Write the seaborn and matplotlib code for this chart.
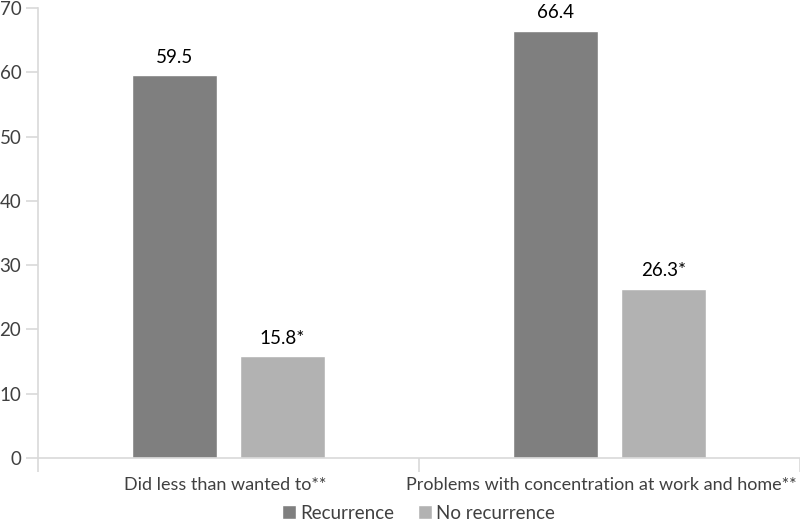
import pandas as pd
import matplotlib.pyplot as plt
import matplotlib.transforms as mtransforms
import seaborn as sns
from matplotlib.ticker import FixedLocator

categories = ["Did less than wanted to**", "Problems with concentration at work and home**"]
groups = ["Recurrence", "No recurrence"]
recurrence = [59.5, 66.4]
no_recurrence = [15.8, 26.3]
labels_recurrence = ["59.5", "66.4"]
labels_no_recurrence = ["15.8*", "26.3*"]

df = pd.DataFrame({
    "category": categories * 2,
    "group": [groups[0]] * 2 + [groups[1]] * 2,
    "value": recurrence + no_recurrence,
})

sns.set_theme(style="white")
plt.rcParams["font.family"] = ["Lato", "DejaVu Sans"]
text_col = "#404040"
axis_col = "#d9d9d9"

fig = plt.figure(figsize=(8, 5.22), dpi=100)
ax = fig.add_axes([0.0475, 0.1226, 0.9525, 0.8621])
sns.barplot(data=df, x="category", y="value", hue="group", hue_order=groups,
            palette=["#7f7f7f", "#b2b2b2"], width=0.565, gap=0.21,
            saturation=1, ax=ax, legend=True)

for cont, labs in zip(ax.containers, [labels_recurrence, labels_no_recurrence]):
    ax.bar_label(cont, labels=labs, padding=7, fontsize=13.5, color="black")

ax.set_ylim(0, 70)
ax.set_xlim(-0.5, 1.5)
ax.set_yticks(range(0, 71, 10))
ax.set_xlabel("")
ax.set_ylabel("")
for s in ["top", "right"]:
    ax.spines[s].set_visible(False)
ax.spines["left"].set_color(axis_col)
ax.spines["bottom"].set_color(axis_col)
ax.spines["left"].set_linewidth(1.2)
ax.spines["bottom"].set_linewidth(1.2)
ax.tick_params(axis="y", left=True, length=9, width=1.2, color=axis_col,
               labelsize=13.5, labelcolor=text_col, pad=3)
ax.tick_params(axis="x", which="major", bottom=False, labelsize=13,
               labelcolor=text_col, pad=8)
ax.xaxis.set_minor_locator(FixedLocator([-0.5, 0.5, 1.5]))
ax.tick_params(axis="x", which="minor", bottom=True, length=10, width=1.2,
               color=axis_col)

# nudge the category labels left a little, like the original
for lab, dx in zip(ax.get_xticklabels(), [-3.5, -8]):
    lab.set_transform(lab.get_transform() +
                      mtransforms.ScaledTranslation(dx / 100, 0, fig.dpi_scale_trans))

ax.get_legend().remove()
handles, leg_labels = ax.get_legend_handles_labels()
fig.legend(handles, leg_labels, loc="center", bbox_to_anchor=(0.523, 0.017), ncol=2,
           frameon=False, fontsize=13.5, handlelength=0.75, handleheight=0.75,
           handletextpad=0.2, columnspacing=1.3, labelcolor=text_col,
           borderpad=0, borderaxespad=0)

fig.savefig("out.png", dpi=100)
